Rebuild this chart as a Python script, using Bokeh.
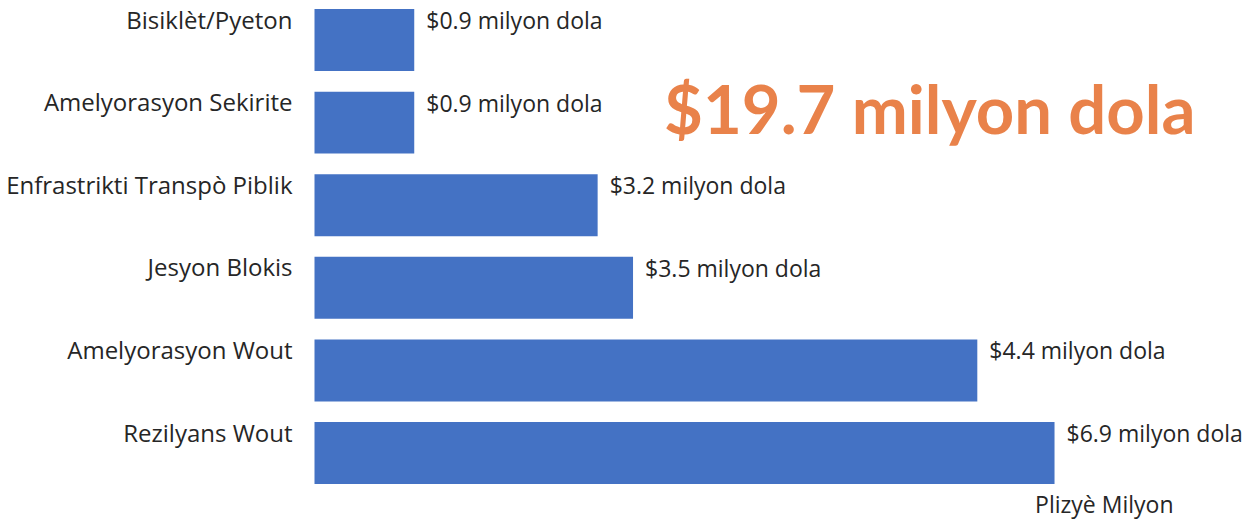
from bokeh.plotting import figure
from bokeh.models import ColumnDataSource, Range1d, Label
from bokeh.core.properties import value
from bokeh.embed import file_html
from bokeh.resources import INLINE

categories = ["Bisiklèt/Pyeton", "Amelyorasyon Sekirite", "Enfrastrikti Transpò Piblik",
              "Jesyon Blokis", "Amelyorasyon Wout", "Rezilyans Wout"]
amounts = [0.9, 0.9, 3.2, 3.5, 4.4, 6.9]
# bar lengths as drawn in the reference (not proportional to the labelled amounts)
bar_lengths = [0.93, 0.93, 2.64, 2.97, 6.18, 6.90]
value_labels = ["$%.1f milyon dola" % a for a in amounts]
total_label = "$19.7 milyon dola"
axis_title = "Plizyè Milyon"

W, H = 1245, 520
px_per_unit = 107.25
x0_px = 314
row_px = 82.6
first_px = 39.5

positions = list(range(len(categories)))
bar_h = 0.75
tops = [i - bar_h / 2 for i in positions]

src = ColumnDataSource(dict(y=positions, top=tops, length=bar_lengths, cat=categories,
                            lab=value_labels, zero=[0] * len(categories)))

p = figure(width=W, height=H, output_backend="svg", toolbar_location=None,
           x_range=Range1d(-x0_px / px_per_unit, (W - x0_px) / px_per_unit),
           y_range=Range1d((H - first_px) / row_px, -first_px / row_px),
           min_border=0, min_border_left=0, min_border_right=0,
           min_border_top=0, min_border_bottom=0)
p.axis.visible = False
p.grid.visible = False
p.outline_line_color = None
p.background_fill_color = "white"
p.border_fill_color = "white"

p.hbar(y="y", left=0, right="length", height=bar_h, source=src,
       fill_color="#4472C4", line_color=None)

FONT = "Open Sans"
TXT = "#262626"
p.text(x="zero", y="top", text="cat", source=src, x_offset=-22, y_offset=10,
       text_align="right", text_baseline="alphabetic", text_font=value(FONT),
       text_font_size="24px", text_color=TXT)
p.text(x="length", y="top", text="lab", source=src, x_offset=12, y_offset=11,
       text_align="left", text_baseline="alphabetic", text_font=value(FONT),
       text_font_size="23px", text_color=TXT)

p.add_layout(Label(x=1195, y=H - 107, x_units="screen", y_units="screen",
                   text=total_label, text_align="right", text_baseline="alphabetic",
                   text_font="Lato", text_font_style="bold", text_font_size="67px",
                   text_color="#E9824A"))
p.add_layout(Label(x=1173, y=H - 503, x_units="screen", y_units="screen",
                   text=axis_title, text_align="right", text_baseline="alphabetic",
                   text_font=FONT, text_font_size="23px", text_color=TXT))

open("out.html", "w").write(file_html(p, INLINE))
